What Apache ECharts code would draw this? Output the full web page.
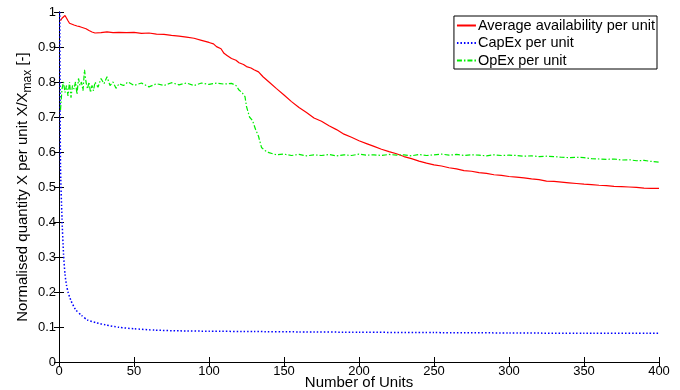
<!DOCTYPE html>
<html>
<head>
<meta charset="utf-8">
<script src="https://cdn.jsdelivr.net/npm/echarts@6/dist/echarts.min.js"></script>
<style>
  html, body { margin: 0; padding: 0; background: #fff; }
  #chart { width: 680px; height: 390px; }
</style>
</head>
<body>
<div id="chart"></div>
<script>
// average availability per unit
var availUnits = [1, 2, 3, 4, 5, 6, 7, 8, 10, 12, 14, 16, 18, 20, 22, 24,
  28, 32, 36, 40, 45, 50, 55, 60, 65, 70, 75, 80, 85, 90, 95, 100, 103, 105, 108, 110,
  112, 115, 118, 120, 123, 125, 128, 130, 133, 136, 140, 145, 150, 155, 160, 165, 170,
  175, 180, 185, 190, 195, 200, 205, 210, 215, 220, 225, 230, 235, 240, 245, 250,
  255, 260, 265, 270, 275, 280, 285, 290, 295, 300, 305, 310, 315, 320, 325, 330,
  335, 340, 345, 350, 355, 360, 365, 370, 375, 380, 385, 390, 395, 400];
var availValues = [0.975, 0.982, 0.986, 0.99, 0.985, 0.975, 0.968, 0.965, 0.963, 0.96, 0.958, 0.955, 0.952, 0.947, 0.943, 0.94,
  0.941, 0.943, 0.941, 0.942, 0.941, 0.942, 0.939, 0.94, 0.937, 0.936, 0.933, 0.931, 0.928, 0.925, 0.919, 0.913, 0.909, 0.901, 0.895, 0.882,
  0.876, 0.867, 0.862, 0.855, 0.85, 0.844, 0.84, 0.835, 0.829, 0.815, 0.8, 0.781, 0.763, 0.744, 0.727, 0.713, 0.697,
  0.688, 0.675, 0.664, 0.651, 0.642, 0.632, 0.624, 0.616, 0.608, 0.601, 0.595, 0.587, 0.581, 0.574, 0.568, 0.563,
  0.56, 0.555, 0.552, 0.547, 0.545, 0.541, 0.539, 0.535, 0.533, 0.53, 0.528, 0.526, 0.523, 0.521, 0.517, 0.516,
  0.514, 0.512, 0.51, 0.508, 0.507, 0.505, 0.504, 0.502, 0.501, 0.5, 0.499, 0.497, 0.496, 0.496];

// capex per unit
var capexUnits = [0.5, 1, 2, 3, 4, 5, 6, 8, 11, 15, 19, 25, 31, 40, 50, 64, 80, 100, 130, 160, 200, 250, 300, 350, 400];
var capexValues = [1.0, 0.56, 0.41, 0.31, 0.25, 0.22, 0.2, 0.175, 0.15, 0.133, 0.12, 0.112, 0.106, 0.099, 0.095, 0.091,
  0.089, 0.088, 0.087, 0.086, 0.085, 0.084, 0.083, 0.082, 0.082];

// opex per unit
var opexUnits = [1, 2, 3, 4, 5, 6, 7, 8, 9, 10, 11, 12, 13, 14, 15, 16, 17, 18, 19, 20, 21, 22, 23, 24, 26, 28, 30, 32, 34, 36, 38, 40,
  43, 46, 50, 55, 60, 65, 70, 75, 80, 85, 90, 95, 100, 105, 110, 115, 118, 120, 122, 124, 125, 127, 129, 131, 133, 135, 137, 140,
  145, 150, 155, 160, 165, 170, 175, 180, 185, 190, 195, 200, 205, 210, 215, 220, 225, 230, 235, 240, 245, 250, 255, 260, 265,
  270, 275, 280, 285, 290, 295, 300, 305, 310, 315, 320, 325, 330, 335, 340, 345, 350, 355, 360, 365, 370, 375, 380, 385, 390, 395, 400];
var opexValues = [0.72, 0.78, 0.8, 0.77, 0.79, 0.76, 0.8, 0.755, 0.79, 0.78, 0.8, 0.765, 0.81, 0.79, 0.8, 0.775, 0.835, 0.8, 0.78, 0.8, 0.77, 0.79, 0.775, 0.8, 0.785, 0.81, 0.795, 0.815, 0.79, 0.8, 0.782, 0.795,
  0.79, 0.8, 0.79, 0.797, 0.786, 0.795, 0.79, 0.798, 0.792, 0.797, 0.79, 0.797, 0.793, 0.797, 0.794, 0.796, 0.79, 0.777, 0.77, 0.758, 0.73, 0.7, 0.69, 0.665, 0.645, 0.613, 0.605, 0.598,
  0.592, 0.594, 0.59, 0.593, 0.589, 0.592, 0.59, 0.593, 0.589, 0.592, 0.59, 0.594, 0.591, 0.592, 0.59, 0.593, 0.591, 0.592, 0.589, 0.593, 0.59, 0.592, 0.594, 0.591, 0.593,
  0.59, 0.592, 0.591, 0.589, 0.592, 0.59, 0.591, 0.59, 0.588, 0.589, 0.587, 0.588, 0.587, 0.585, 0.584, 0.585, 0.584, 0.581, 0.58, 0.579, 0.58, 0.577, 0.578, 0.575, 0.576, 0.573, 0.571];

var xTicks = { min: 0, max: 400, interval: 50 };
var yTicks = { min: 0, max: 1, interval: 0.1 };

function pairs(xs, ys) {
  return xs.map(function (x, i) { return [x, ys[i]]; });
}

var font = 'Liberation Sans, Arial, sans-serif';
var axisBase = {
  type: 'value',
  axisLine: { show: true, lineStyle: { color: '#000', width: 1 } },
  axisTick: { show: true, inside: true, length: 5, lineStyle: { color: '#000' } },
  splitLine: { show: false }
};

var option = {
  animation: false,
  backgroundColor: '#fff',
  grid: { left: 59, right: 21, top: 12, bottom: 28, outerBoundsMode: 'none', containLabel: false },
  legend: {
    orient: 'vertical',
    right: 23,
    top: 16,
    padding: [2, 2, 1, 2],
    itemGap: 2.5,
    itemWidth: 19,
    itemHeight: 14,
    backgroundColor: '#fff',
    borderColor: '#000',
    borderWidth: 1,
    borderRadius: 0,
    itemStyle: { opacity: 0 },
    textStyle: { color: '#000', fontSize: 14.5, lineHeight: 14, fontFamily: font, padding: [0, 0, 0, -3] }
  },
  xAxis: [
    Object.assign({}, axisBase, xTicks, {
      position: 'bottom',
      name: 'Number of Units',
      nameLocation: 'middle',
      nameGap: 13,
      nameMoveOverlap: false,
      nameTextStyle: { color: '#000', fontSize: 15, fontFamily: font },
      axisLabel: { color: '#000', fontSize: 13, fontFamily: font, margin: 3 }
    }),
    Object.assign({}, axisBase, xTicks, { position: 'top', axisLabel: { show: false } })
  ],
  yAxis: [
    Object.assign({}, axisBase, yTicks, {
      position: 'left',
      name: 'Normalised quantity X per unit X/X{sub|max} [-]',
      nameLocation: 'middle',
      nameGap: 25,
      nameMoveOverlap: false,
      nameTextStyle: {
        color: '#000', fontSize: 15, fontFamily: font,
        rich: { sub: { fontSize: 12, fontFamily: font, color: '#000', verticalAlign: 'top', padding: [10, 0, 0, 0] } }
      },
      axisLabel: { color: '#000', fontSize: 13, fontFamily: font, margin: 3 }
    }),
    Object.assign({}, axisBase, yTicks, { position: 'right', axisLabel: { show: false } })
  ],
  series: [
    {
      name: 'Average availability per unit',
      type: 'line',
      symbol: 'none',
      data: pairs(availUnits, availValues),
      lineStyle: { color: '#ff0000', width: 1.2 },
      itemStyle: { color: '#ff0000' }
    },
    {
      name: 'CapEx per unit',
      type: 'line',
      symbol: 'none',
      smooth: 0.2,
      data: pairs(capexUnits, capexValues),
      lineStyle: { color: '#0000ff', width: 1.5, type: [1.5, 2] },
      itemStyle: { color: '#0000ff' }
    },
    {
      name: 'OpEx per unit',
      type: 'line',
      symbol: 'none',
      data: pairs(opexUnits, opexValues),
      lineStyle: { color: '#00ee00', width: 1.2, type: [5, 2, 1.5, 2] },
      itemStyle: { color: '#00ee00' }
    }
  ]
};

var chart = echarts.init(document.getElementById('chart'));
chart.setOption(option);
</script>
</body>
</html>
